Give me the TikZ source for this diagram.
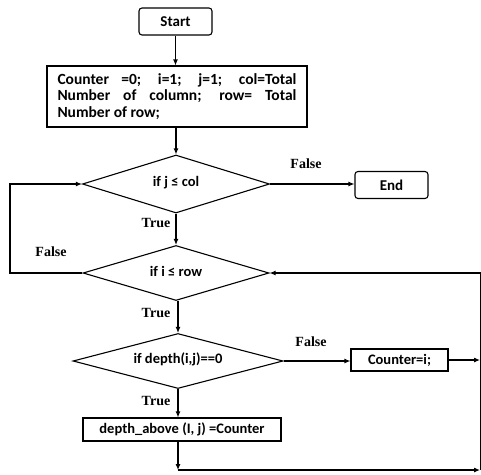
\documentclass[tikz,border=0pt]{standalone}
\usepackage{fontspec}
\setmainfont{Carlito}
\newfontfamily\lblfont{Liberation Serif}
\usetikzlibrary{shapes.geometric,arrows.meta}

\tikzset{
	term/.style={draw, rounded corners=3pt, minimum width=73pt, minimum height=27pt, font=\fontsize{15}{17}\selectfont\bfseries},
	proc/.style={draw, minimum height=23pt, font=\fontsize{14.5}{17}\selectfont\bfseries},
	test/.style={draw, diamond, inner sep=0pt, font=\fontsize{14.5}{17}\selectfont\bfseries},
	yesno/.style={font=\lblfont\fontsize{14}{16}\selectfont\bfseries},
	flow/.style={-{Latex[length=6pt,width=5pt]}}
}

\begin{document}
\begin{tikzpicture}[x=1pt,y=-1pt,line width=1.1pt]
	\useasboundingbox (0,0) rectangle (481,474);
	\node[term] (start) at (175.5,21.5) {Start};
	\node[draw, minimum width=260pt, minimum height=61pt, text width=239pt, align=justify, font=\fontsize{15.5}{16.5}\selectfont\bfseries] (init) at (177,96.5) {Counter =0; i=1; j=1; col=Total\linebreak Number of column; row= Total\linebreak Number of row;};
	\node[test, aspect=3.2, minimum width=187pt, minimum height=58pt] (dcol) at (176,184) {\raisebox{5pt}{if j ≤ col}};
	\node[term] (stop) at (391.5,185) {End};
	\node[test, aspect=3.4, minimum width=186pt, minimum height=55pt] (drow) at (176,273) {\raisebox{4pt}{if i ≤ row}};
	\node[test, aspect=3.8, minimum width=210pt, minimum height=55pt] (ddep) at (178,361) {\raisebox{5pt}{if depth(i,j)==0}};
	\node[proc, minimum width=97pt, minimum height=22pt] (setc) at (399.5,360) {Counter=i;};
	\node[proc, minimum width=198pt] (above) at (182,429.5) {depth\_above (I, j) =Counter};
	
	\coordinate (loopl) at (10,273);
	\coordinate (outc) at (480,360);
	\coordinate (joinb) at (178,470);
	\coordinate (joinr) at (480,470);
	\coordinate (backr) at (481,273);
	
	\draw[flow] (start) -- (start |- init.north);
	\draw[flow] (init.south -| dcol.north) -- (dcol.north);
	\draw[flow] (dcol.east) -- (dcol.east -| stop.west);
	\draw[flow] (dcol.south) -- (drow.north);
	\draw[flow] (drow.west) -- (loopl) |- (dcol.west);
	\draw[flow] (drow.south -| ddep.north) -- (ddep.north);
	\draw[flow] (ddep.east) -- (ddep.east -| setc.west);
	\draw[flow] (setc.east) -- (outc);
	\draw[flow] (ddep.south) -- (ddep.south |- above.north);
	\draw[flow] (above.south -| joinb) -- (joinb);
	\draw[flow] (joinb) -- (joinr);
	\draw[flow] (joinr -| backr) -- (backr) -- (drow.east);
	
	\node[yesno] (f1) at (306,164) {False};
	\node[yesno] (t1) at (156,223) {True};
	\node[yesno] (f2) at (51,252) {False};
	\node[yesno] (t2) at (156,313) {True};
	\node[yesno] (f3) at (311,342) {False};
	\node[yesno] (t3) at (156,401) {True};
\end{tikzpicture}
\end{document}
